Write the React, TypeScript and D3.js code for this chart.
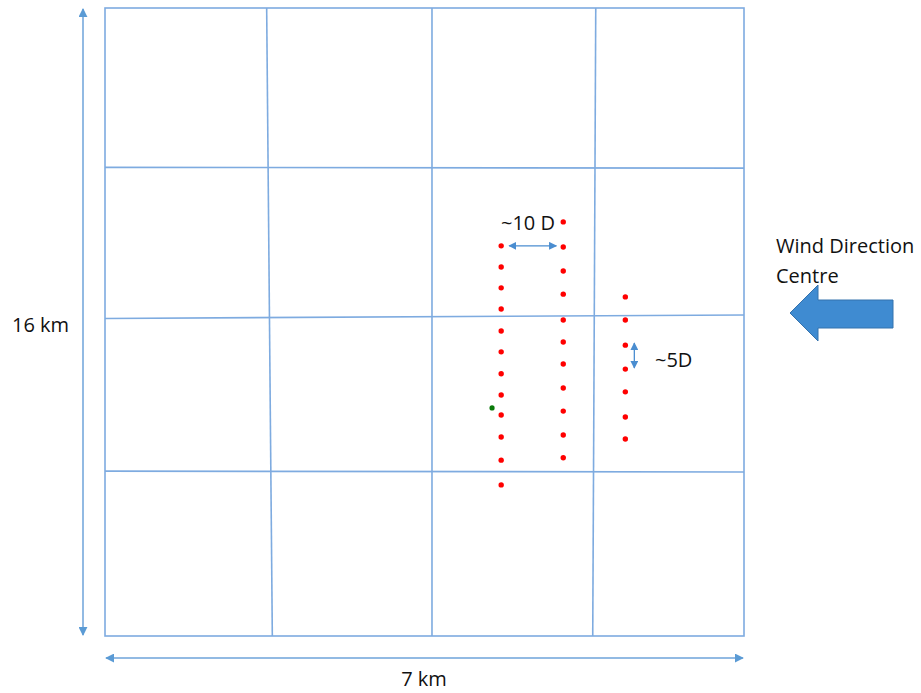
import React from "react";
import * as d3 from "d3";

// Domain: 7 km wide, 16 km tall
const widthKm = 7;
const heightKm = 16;

// Hand-drawn grid lines (km). Vertical: x at top / bottom. Horizontal: y at left / right.
const gridVTop = [1.771, 3.582, 5.376];
const gridVBottom = [1.833, 3.582, 5.343];
const gridHLeft = [11.94, 8.09, 4.2];
const gridHRight = [11.92, 8.18, 4.18];

// Turbine columns (x in km) and their y positions (km)
const col1X = 4.34;
const col1Y = [9.94, 9.4, 8.87, 8.33, 7.77, 7.24, 6.68, 6.14, 5.63, 5.07, 4.48, 3.85];
const col2X = 5.02;
const col2Y = [10.55, 9.91, 9.3, 8.71, 8.05, 7.49, 6.93, 6.32, 5.73, 5.12, 4.54];
const col3X = 5.7;
const col3Y = [8.64, 8.05, 7.41, 6.8, 6.22, 5.58, 5.02];
const greenPoint = { x: 4.24, y: 5.81 };

const labels = {
  height: "16 km",
  width: "7 km",
  tenD: "~10 D",
  fiveD: "~5D",
  wind1: "Wind Direction",
  wind2: "Centre",
};

const W = 921;
const H = 693;
const FONT = "'Open Sans', 'Liberation Sans', sans-serif";
const GRID = "#7eabe0";
const ARROW = "#4a8dd0";

export default function App() {
  const x = d3.scaleLinear().domain([0, widthKm]).range([105, 744]);
  const y = d3.scaleLinear().domain([0, heightKm]).range([636, 8]);

  const dots = [
    ...col1Y.map((v) => ({ x: col1X, y: v })),
    ...col2Y.map((v) => ({ x: col2X, y: v })),
    ...col3Y.map((v) => ({ x: col3X, y: v })),
  ];

  // small dimension arrows
  const tenDy = y(col1Y[0]);
  const fiveDx = x(col3X) + 9;

  const bigArrow = d3.line()([
    [790, 313],
    [818, 285],
    [818, 300],
    [893, 300],
    [893, 328],
    [818, 328],
    [818, 341],
  ]) + "Z";

  return (
    <svg width={W} height={H} style={{ position: "absolute", left: 0, top: 0, background: "#fff" }}>
      <defs>
        <marker id="ah" viewBox="0 0 10 10" refX="9" refY="5" markerWidth="9" markerHeight="9" markerUnits="userSpaceOnUse" orient="auto-start-reverse">
          <path d="M0,0 L10,5 L0,10 Z" fill="#5b9bd5" />
        </marker>
        <marker id="ahs" viewBox="0 0 10 10" refX="9" refY="5" markerWidth="8" markerHeight="8" markerUnits="userSpaceOnUse" orient="auto-start-reverse">
          <path d="M0,0 L10,5 L0,10 Z" fill="#4a8dd0" />
        </marker>
      </defs>

      {/* outer box */}
      <rect x={x(0)} y={y(heightKm)} width={x(widthKm) - x(0)} height={y(0) - y(heightKm)} fill="none" stroke={GRID} strokeWidth={1.6} />
      {/* inner grid */}
      {gridVTop.map((v, i) => (
        <line key={"v" + i} x1={x(v)} y1={y(heightKm)} x2={x(gridVBottom[i])} y2={y(0)} stroke={GRID} strokeWidth={1.6} />
      ))}
      {gridHLeft.map((v, i) => (
        <line key={"h" + i} x1={x(0)} y1={y(v)} x2={x(widthKm)} y2={y(gridHRight[i])} stroke={GRID} strokeWidth={1.6} />
      ))}

      {/* dimension arrows */}
      <line x1={83} y1={y(heightKm) + 1} x2={83} y2={y(0) - 1} stroke="#6ea3da" strokeWidth={1.5} markerStart="url(#ah)" markerEnd="url(#ah)" />
      <line x1={x(0) + 1} y1={658} x2={x(widthKm) - 1} y2={658} stroke="#6ea3da" strokeWidth={1.5} markerStart="url(#ah)" markerEnd="url(#ah)" />

      {/* dots */}
      {dots.map((d, i) => (
        <circle key={i} cx={x(d.x)} cy={y(d.y)} r={2.7} fill="#ff0000" />
      ))}
      <circle cx={x(greenPoint.x)} cy={y(greenPoint.y)} r={2.6} fill="#0a7a0a" />

      {/* 10D arrow */}
      <line x1={x(col1X) + 8} y1={tenDy} x2={x(col2X) - 7} y2={tenDy} stroke={ARROW} strokeWidth={1.3} markerStart="url(#ahs)" markerEnd="url(#ahs)" />
      {/* 5D arrow */}
      <line x1={fiveDx} y1={343} x2={fiveDx} y2={368} stroke={ARROW} strokeWidth={1.3} markerStart="url(#ahs)" markerEnd="url(#ahs)" />

      {/* big wind arrow */}
      <path d={bigArrow} fill="#3f8bd1" stroke="#3572ad" strokeWidth={1} />

      {/* texts */}
      <g fontFamily={FONT} fill="#111" fontSize={20}>
        <text x={12} y={332}>{labels.height}</text>
        <text x={424} y={686} textAnchor="middle">{labels.width}</text>
        <text x={501} y={230}>{labels.tenD}</text>
        <text x={655} y={367}>{labels.fiveD}</text>
        <text x={776} y={253}>{labels.wind1}</text>
        <text x={776} y={283}>{labels.wind2}</text>
      </g>
    </svg>
  );
}
